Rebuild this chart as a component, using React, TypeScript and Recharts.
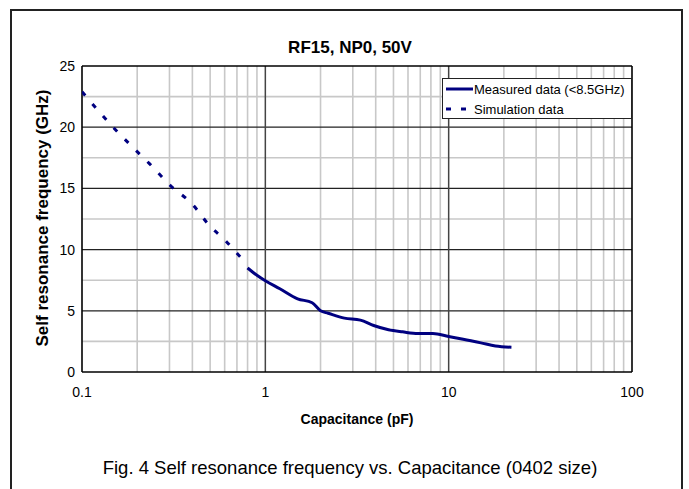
import React from "react"
import { LineChart, Line, XAxis, YAxis, ReferenceLine } from "recharts"

const title = "RF15, NP0, 50V"
const xLabel = "Capacitance (pF)"
const yLabel = "Self resonance frequency (GHz)"
const caption = "Fig. 4 Self resonance frequency vs. Capacitance (0402 size)"

const measuredName = "Measured data (<8.5GHz)"
const simulationName = "Simulation data"

// simulation (dashed), pF -> GHz
const simCap = [0.1, 0.15, 0.2, 0.234, 0.3, 0.4, 0.5, 0.6, 0.7, 0.74]
const simFreq = [22.9, 19.9, 18.0, 17.0, 15.3, 13.7, 11.9, 10.8, 9.7, 9.3]

// measured (solid)
const measCap = [0.8, 0.9, 1.0, 1.2, 1.5, 1.8, 2.0, 2.2, 2.7, 3.3, 3.9, 4.7, 5.6, 6.8, 8.2, 10, 12, 15, 18, 22]
const measFreq = [8.5, 7.9, 7.45, 6.8, 5.98, 5.66, 5.0, 4.8, 4.4, 4.24, 3.8, 3.45, 3.28, 3.14, 3.14, 2.9, 2.68, 2.38, 2.12, 2.02]

const xTicks = [0.1, 1, 10, 100]
const yTicks = [0, 5, 10, 15, 20, 25]
const xMinor = [0.2, 0.3, 0.4, 0.5, 0.6, 0.7, 0.8, 0.9, 2, 3, 4, 5, 6, 7, 8, 9, 20, 30, 40, 50, 60, 70, 80, 90]
const xMajor = [1, 10]
const yMinor = [2.5, 7.5, 12.5, 17.5, 22.5]
const yMajor = [5, 10, 15, 20]

const simData = simCap.map((c, i) => ({ c, f: simFreq[i] }))
const measData = measCap.map((c, i) => ({ c, f: measFreq[i] }))

const FONT = "'Liberation Sans', Arial, sans-serif"
const NAVY = "#000080"

function LegendBox() {
  return (
    <svg width={190} height={41} style={{ position: "absolute", left: 442, top: 78 }}>
      <rect x={0.5} y={0.5} width={189} height={40} fill="#fff" stroke="#222" strokeWidth={1} />
      <line x1={4} y1={11} x2={31} y2={11} stroke={NAVY} strokeWidth={3} />
      <text x={32} y={15.5} fontSize={13} fontFamily={FONT} fill="#000">{measuredName}</text>
      <line x1={4} y1={31} x2={26} y2={31} stroke={NAVY} strokeWidth={3} strokeDasharray="5 10" />
      <text x={32} y={35.5} fontSize={13} fontFamily={FONT} fill="#000">{simulationName}</text>
    </svg>
  )
}

export default function App() {
  return (
    <div style={{ position: "absolute", left: 0, top: 0, width: 689, height: 489, overflow: "hidden", background: "#fff" }}>
      <div style={{ position: "absolute", left: 10, top: 9, width: 673, height: 520, border: "2px solid #222", boxSizing: "border-box" }} />
      <LineChart
        width={689}
        height={489}
        margin={{ top: 66, right: 57, bottom: 87, left: 22 }}
        style={{ position: "absolute", left: 0, top: 0 }}
      >
        <XAxis
          dataKey="c"
          type="number"
          scale="log"
          domain={[0.1, 100]}
          ticks={xTicks}
          allowDataOverflow
          height={30}
          tickLine={false}
          tickSize={0}
          tickMargin={15}
          axisLine={false}
          tick={{ fontSize: 14, fontFamily: FONT, fill: "#000" }}
        />
        <YAxis
          type="number"
          domain={[0, 25]}
          ticks={yTicks}
          width={60}
          tickLine={false}
          tickSize={0}
          tickMargin={7}
          axisLine={false}
          tick={{ fontSize: 14, fontFamily: FONT, fill: "#000" }}
        />
        {xMinor.map((v) => (
          <ReferenceLine key={"xm" + v} x={v} stroke="#c8c8c8" strokeWidth={1.6} />
        ))}
        {yMinor.map((v) => (
          <ReferenceLine key={"ym" + v} y={v} stroke="#c8c8c8" strokeWidth={1.6} />
        ))}
        {yMajor.map((v) => (
          <ReferenceLine key={"yM" + v} y={v} stroke="#222" strokeWidth={1.3} />
        ))}
        {xMajor.map((v) => (
          <ReferenceLine key={"xM" + v} x={v} stroke="#444" strokeWidth={1.5} />
        ))}
        <ReferenceLine y={0} stroke="#000" strokeWidth={1.6} />
        <ReferenceLine y={25} stroke="#000" strokeWidth={1.6} />
        <ReferenceLine x={0.1} stroke="#000" strokeWidth={1.6} />
        <ReferenceLine x={100} stroke="#000" strokeWidth={1.6} />
        <Line
          data={simData}
          dataKey="f"
          name={simulationName}
          type="monotone"
          stroke={NAVY}
          strokeWidth={3}
          strokeDasharray="5 11"
          dot={false}
          activeDot={false}
          isAnimationActive={false}
        />
        <Line
          data={measData}
          dataKey="f"
          name={measuredName}
          type="monotone"
          stroke={NAVY}
          strokeWidth={3}
          dot={false}
          activeDot={false}
          isAnimationActive={false}
        />
      </LineChart>
      <LegendBox />
      <svg width={689} height={489} style={{ position: "absolute", left: 0, top: 0, pointerEvents: "none" }}>
        <text x={350} y={53} textAnchor="middle" fontSize={17} fontWeight="bold" fontFamily={FONT} fill="#000">
          {title}
        </text>
        <text x={357} y={424} textAnchor="middle" fontSize={14} fontWeight="bold" fontFamily={FONT} fill="#000">
          {xLabel}
        </text>
        <text
          x={0}
          y={0}
          transform="translate(48,218) rotate(-90)"
          textAnchor="middle"
          fontSize={17}
          fontWeight="bold"
          fontFamily={FONT}
          fill="#000"
        >
          {yLabel}
        </text>
        <text x={350} y={474} textAnchor="middle" fontSize={18.5} fontFamily={FONT} fill="#000">
          {caption}
        </text>
      </svg>
    </div>
  )
}
